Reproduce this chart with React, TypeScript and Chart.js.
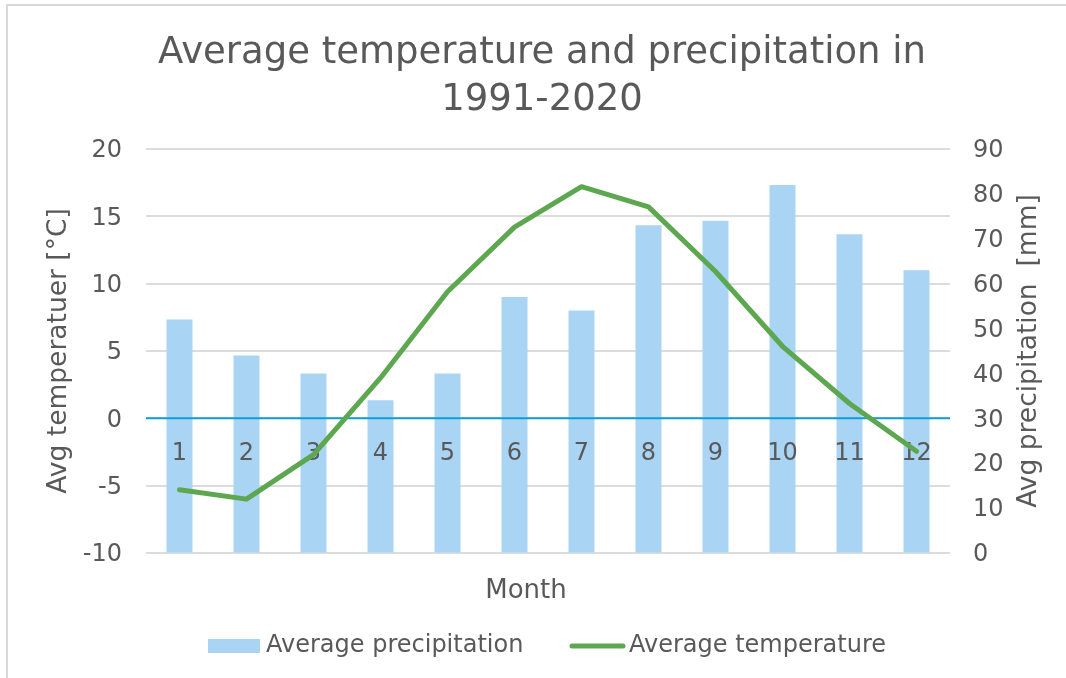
import React, { useEffect, useRef } from 'react';
import { Chart, registerables } from 'chart.js';

Chart.register(...registerables);

// ---- Data ----
const months = ['1', '2', '3', '4', '5', '6', '7', '8', '9', '10', '11', '12'];
const precipitation = [52, 44, 40, 34, 40, 57, 54, 73, 74, 82, 71, 63];
const temperature = [-5.3, -6.0, -2.7, 3.0, 9.4, 14.2, 17.2, 15.7, 10.9, 5.35, 1.1, -2.45];
const tempAxis = { min: -10, max: 20, step: 5 };
const precipAxis = { min: 0, max: 90, step: 10 };
const titleLines = ['Average temperature and precipitation in', '1991-2020'];
const seriesNames = ['Average precipitation', 'Average temperature'];
const leftAxisTitle = 'Avg temperatuer [°C]';
const rightAxisTitle = 'Avg precipitation  [mm]';
const xAxisTitle = 'Month';

// ---- Styles ----
const FONT = '"DejaVu Sans", Verdana, sans-serif';
const TEXT = '#595959';
const BAR = '#a9d4f4';
const LINE = '#5da750';
const ZERO = '#0c9edb';
const GRID = '#dcdcdc';

const overlayPlugin = {
  id: 'excelOverlay',
  beforeDatasetDraw(chart: any, args: any) {
    if (args.index !== 1) return;
    const { ctx, chartArea, scales } = chart;
    const zeroY = scales.y.getPixelForValue(0);
    ctx.save();
    ctx.strokeStyle = ZERO;
    ctx.lineWidth = 2;
    ctx.beginPath();
    ctx.moveTo(chartArea.left, zeroY);
    ctx.lineTo(chartArea.right, zeroY);
    ctx.stroke();
    ctx.font = `24px ${FONT}`;
    ctx.fillStyle = TEXT;
    ctx.textAlign = 'center';
    ctx.textBaseline = 'middle';
    (chart.data.labels as string[]).forEach((l, i) => {
      ctx.fillText(l, scales.x.getPixelForValue(i), zeroY + 35);
    });
    ctx.restore();
  },
  afterDraw(chart: any) {
    const { ctx, chartArea } = chart;
    ctx.save();
    // right axis title (reads bottom-to-top)
    ctx.font = `26.5px ${FONT}`;
    ctx.fillStyle = TEXT;
    ctx.textAlign = 'center';
    ctx.textBaseline = 'middle';
    ctx.translate(1029, (chartArea.top + chartArea.bottom) / 2);
    ctx.rotate(-Math.PI / 2);
    ctx.fillText(rightAxisTitle, 0, 0);
    ctx.restore();

    ctx.save();
    // x-axis title
    ctx.font = `26px ${FONT}`;
    ctx.fillStyle = TEXT;
    ctx.textAlign = 'center';
    ctx.textBaseline = 'middle';
    ctx.fillText(xAxisTitle, 526, 591);
    // legend
    const ly = 646;
    ctx.font = `24px ${FONT}`;
    ctx.textAlign = 'left';
    ctx.fillStyle = BAR;
    ctx.fillRect(208, 639, 52, 14);
    ctx.fillStyle = TEXT;
    ctx.fillText(chart.data.datasets[0].label, 266, ly);
    ctx.strokeStyle = LINE;
    ctx.lineWidth = 5;
    ctx.lineCap = 'round';
    ctx.beginPath();
    ctx.moveTo(572, ly);
    ctx.lineTo(623, ly);
    ctx.stroke();
    ctx.fillStyle = TEXT;
    ctx.fillText(chart.data.datasets[1].label, 629, ly);
    ctx.restore();
  },
};

export default function App() {
  const ref = useRef<HTMLCanvasElement>(null);
  useEffect(() => {
    if (!ref.current) return;
    const chart = new Chart(ref.current, {
      type: 'bar',
      data: {
        labels: months,
        datasets: [
          {
            type: 'bar',
            label: seriesNames[0],
            data: precipitation,
            yAxisID: 'y1',
            backgroundColor: BAR,
            barPercentage: 0.388,
            categoryPercentage: 1,
            order: 1,
          },
          {
            type: 'line',
            label: seriesNames[1],
            data: temperature,
            yAxisID: 'y',
            borderColor: LINE,
            backgroundColor: LINE,
            borderWidth: 5,
            pointRadius: 0,
            tension: 0,
            borderCapStyle: 'round',
            borderJoinStyle: 'round',
            order: 0,
          },
        ] as any,
      },
      options: {
        animation: false,
        responsive: true,
        maintainAspectRatio: false,
        devicePixelRatio: 1,
        events: [],
        layout: { padding: { left: 0, right: 0, top: 0, bottom: 125 } },
        plugins: {
          legend: { display: false },
          tooltip: { enabled: false },
          title: {
            display: true,
            text: titleLines,
            color: TEXT,
            font: { family: FONT, size: 37, weight: 'normal', lineHeight: 1.27 },
            padding: { top: 29.5, bottom: 25.5 },
          },
        },
        scales: {
          x: {
            display: false,
            offset: true,
            grid: { display: false },
          },
          y: {
            position: 'left',
            min: tempAxis.min,
            max: tempAxis.max,
            afterFit: (s: any) => { s.width = 146; },
            ticks: {
              stepSize: tempAxis.step,
              color: TEXT,
              padding: 24,
              labelOffset: 2,
              font: { family: FONT, size: 24 },
            },
            grid: { color: GRID, lineWidth: 2, drawTicks: false },
            border: { display: false },
            title: {
              display: true,
              text: leftAxisTitle,
              color: TEXT,
              font: { family: FONT, size: 26.5, lineHeight: 1.2 },
              padding: { top: 43.4, bottom: 0 },
            },
          },
          y1: {
            position: 'right',
            min: precipAxis.min,
            max: precipAxis.max,
            afterFit: (s: any) => { s.width = 134; },
            ticks: {
              stepSize: precipAxis.step,
              color: TEXT,
              padding: 23,
              labelOffset: 2,
              font: { family: FONT, size: 24 },
            },
            grid: { drawOnChartArea: false, drawTicks: false },
            border: { display: false },
            title: { display: false },
          },
        },
      } as any,
      plugins: [overlayPlugin],
    });
    return () => chart.destroy();
  }, []);

  return (
    <div style={{ position: 'fixed', left: 0, top: 0, width: 1066, height: 678, overflow: 'hidden', background: '#fff' }}>
      <div
        style={{
          position: 'absolute',
          left: 6,
          top: 4,
          width: 1200,
          height: 800,
          border: '2px solid #d9d9d9',
          boxSizing: 'border-box',
        }}
      />
      <div style={{ position: 'absolute', left: 0, top: 0, width: 1084, height: 678 }}>
        <canvas ref={ref} />
      </div>
    </div>
  );
}
